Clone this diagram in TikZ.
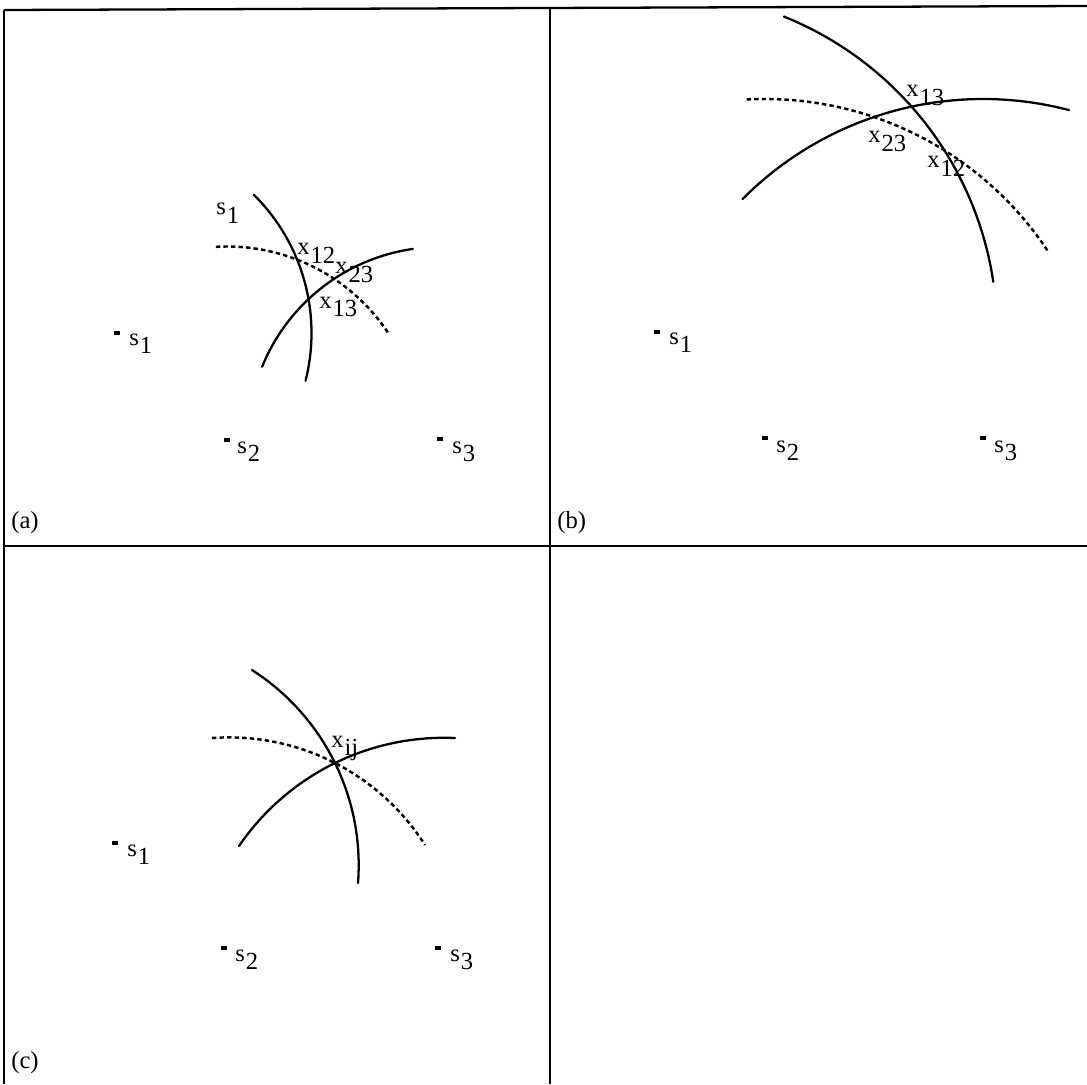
\documentclass[tikz,border=0pt]{standalone}
\usepackage{fontspec}
\setmainfont{Liberation Serif}
\newcommand\sbx[2]{#1\kern0.04em\raisebox{-0.36em}{#2}}
\tikzset{
  frame/.style={line width=1.3pt},
  rcurve/.style={line width=1.3pt, line cap=round},
  rdcurve/.style={line width=1.4pt, dash pattern=on 2.5pt off 1.8pt},
  lbl/.style={anchor=base west, inner sep=0pt, font=\fontsize{14}{16}\selectfont},
  mk/.style={fill=black, inner sep=0pt, minimum width=0.12cm, minimum height=0.08cm}
}
% arc of a circle: style, centre x, centre y, radius, start angle, end angle (px, y down)
\newcommand\carc[6]{\draw[#1] plot[domain=#5:#6, samples=90] ({#2+#4*cos(\x)},{#3+#4*sin(\x)});}
% arc through three points
\newcommand\tarc[7]{%
 \pgfmathsetmacro\tax{(#2-#4)/100}%
 \pgfmathsetmacro\tay{(#3-#5)/100}%
 \pgfmathsetmacro\tcx{(#6-#4)/100}%
 \pgfmathsetmacro\tcy{(#7-#5)/100}%
 \pgfmathsetmacro\tea{\tax*\tax+\tay*\tay}%
 \pgfmathsetmacro\tec{\tcx*\tcx+\tcy*\tcy}%
 \pgfmathsetmacro\tdd{2*(\tax*\tcy-\tay*\tcx)}%
 \pgfmathsetmacro\tux{(\tea*\tcy-\tec*\tay)/\tdd}%
 \pgfmathsetmacro\tuy{(\tax*\tec-\tcx*\tea)/\tdd}%
 \pgfmathsetmacro\tX{#4+100*\tux}%
 \pgfmathsetmacro\tY{#5+100*\tuy}%
 \pgfmathsetmacro\tR{100*sqrt(\tux*\tux+\tuy*\tuy)}%
 \pgfmathsetmacro\tA{atan2(\tay-\tuy,\tax-\tux)}%
 \pgfmathsetmacro\tC{atan2(\tcy-\tuy,\tcx-\tux)}%
 \pgfmathsetmacro\tD{\tC-\tA}%
 \pgfmathsetmacro\tDD{\tD>180 ? \tD-360 : (\tD<-180 ? \tD+360 : \tD)}%
 \pgfmathsetmacro\tE{\tA+\tDD}%
 \carc{#1}{\tX}{\tY}{\tR}{\tA}{\tE}%
}
\begin{document}
\begin{tikzpicture}[x=0.02cm,y=-0.02cm]
\useasboundingbox (0,0) rectangle (1087,1084);
% frame
\coordinate (tl) at (4,10); \coordinate (tr) at (1087,6);
\coordinate (ml) at (4,546); \coordinate (mr) at (1087,546);
\coordinate (bl) at (4,1084); \coordinate (mt) at (550,8); \coordinate (mb) at (550,1084);
\draw[frame] (tl) -- (tr);
\draw[frame] (tl) -- (bl);
\draw[frame] (mt) -- (mb);
\draw[frame] (ml) -- (mr);

% ---------- panel (a)
\node[mk] (a1) at (117,333) {}; \node[lbl] (a1l) at (129,345) {\sbx{s}{1}};
\node[mk] (a2) at (227,440) {}; \node[lbl] (a2l) at (237,453) {\sbx{s}{2}};
\node[mk] (a3) at (440,439) {}; \node[lbl] (a3l) at (452,453) {\sbx{s}{3}};
\carc{rcurve}{117}{333}{194.5}{-45.2}{14.2}
\carc{rcurve}{440}{439}{192}{-157.9}{-98.1}
\carc{rdcurve}{227}{440}{193.5}{-93.3}{-33.6}
\node[lbl] (as) at (216,215) {\sbx{s}{1}};
\node[lbl] (ax12) at (297,255) {\sbx{x}{12}};
\node[lbl] (ax23) at (335,274) {\sbx{x}{23}};
\node[lbl] (ax13) at (319,308) {\sbx{x}{13}};
\node[lbl] (atag) at (11,528) {(a)};

% ---------- panel (b)
\node[mk] (b1) at (657,332) {}; \node[lbl] (b1l) at (669,344) {\sbx{s}{1}};
\node[mk] (b2) at (765,438) {}; \node[lbl] (b2l) at (776,452) {\sbx{s}{2}};
\node[mk] (b3) at (983,438) {}; \node[lbl] (b3l) at (994,452) {\sbx{s}{3}};
\carc{rcurve}{657}{332}{340}{-68.1}{-8.5}
\carc{rcurve}{983}{438}{339}{-135.2}{-75.3}
\carc{rdcurve}{765}{438}{339}{-93.1}{-33.5}
\node[lbl] (bx13) at (906,97) {\sbx{x}{13}};
\node[lbl] (bx23) at (868,143) {\sbx{x}{23}};
\node[lbl] (bx12) at (927,168) {\sbx{x}{12}};
\node[lbl] (btag) at (557,528) {(b)};

% ---------- panel (c)
\node[mk] (c1) at (115,843) {}; \node[lbl] (c1l) at (127,856) {\sbx{s}{1}};
\node[mk] (c2) at (224,948) {}; \node[lbl] (c2l) at (235,961) {\sbx{s}{2}};
\node[mk] (c3) at (438,948) {}; \node[lbl] (c3l) at (450,961) {\sbx{s}{3}};
\tarc{rcurve}{252}{670}{335}{763}{358}{883}
\tarc{rcurve}{239}{846}{335}{763}{455}{738}
\tarc{rdcurve}{212}{738}{335}{763}{425}{845}
\node[lbl] (cxij) at (331,747) {\sbx{x}{ij}};
\node[lbl] (ctag) at (11,1068) {(c)};
\end{tikzpicture}
\end{document}
